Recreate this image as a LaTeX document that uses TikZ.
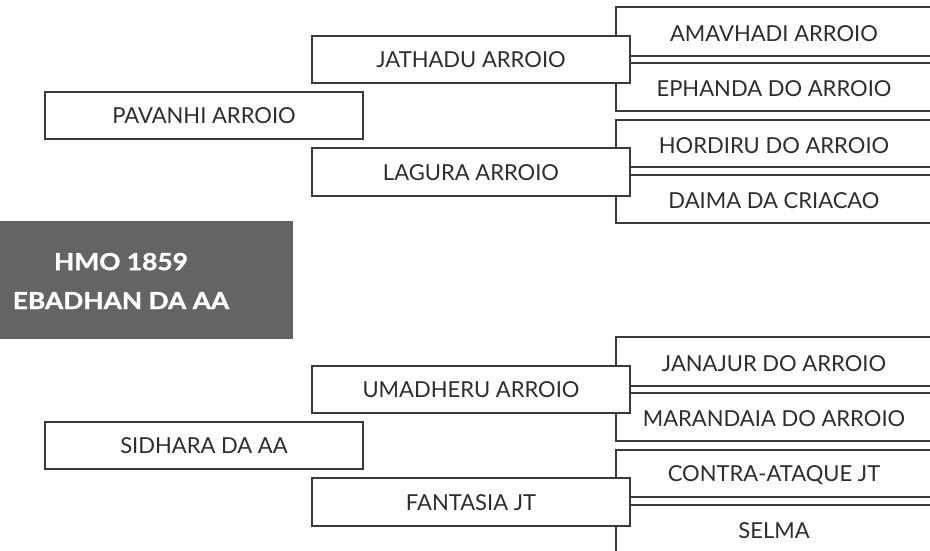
\documentclass[tikz,border=0pt]{standalone}
\usepackage{fontspec}
\setmainfont{Lato}
\newfontfamily\titlefont{Lato}[FakeStretch=1.12, FakeBold=1.3]
\definecolor{ln}{RGB}{58,58,58}
\definecolor{tx}{RGB}{45,45,45}
\definecolor{gbox}{RGB}{100,100,102}
\begin{document}
\begin{tikzpicture}[x=1pt,y=-1pt,
  box/.style={draw=ln, line width=1.2pt, fill=white, rectangle, inner sep=0pt,
    text=tx, font=\fontsize{22}{26}\selectfont, minimum width=318pt, text height=16.5pt},
  ggbox/.style={box, minimum width=316pt, text height=20pt},
  link/.style={draw=ln, line width=1.2pt}]
\useasboundingbox (0,0) rectangle (930,550);
\clip (0,0) rectangle (930,550);

% great-grandparents, top half
\node[ggbox, minimum height=49pt] (ama) at (774,31.5) {AMAVHADI ARROIO};
\node[ggbox, minimum height=48pt] (eph) at (774,87) {EPHANDA DO ARROIO};
\node[ggbox, minimum height=47pt] (hor) at (774,143.5) {HORDIRU DO ARROIO};
\node[ggbox, minimum height=48pt] (dai) at (774,199) {DAIMA DA CRIACAO};
\draw[link] (ama.south west) -- (eph.north west);
\draw[link] (hor.south west) -- (dai.north west);

% great-grandparents, bottom half
\node[ggbox, minimum height=49pt] (jan) at (774,361.5) {JANAJUR DO ARROIO};
\node[ggbox, minimum height=48pt] (mar) at (774,417) {MARANDAIA DO ARROIO};
\node[ggbox, minimum height=47pt] (con) at (774,473.5) {CONTRA-ATAQUE JT};
\node[ggbox, minimum height=48pt] (sel) at (774,529) {SELMA};
\draw[link] (jan.south west) -- (mar.north west);
\draw[link] (con.south west) -- (sel.north west);

% grandparents
\node[box, minimum height=47pt] (jat) at (471,59.5) {JATHADU ARROIO};
\node[box, minimum height=48pt] (lag) at (471,172) {LAGURA ARROIO};
\node[box, minimum height=47pt] (uma) at (471,389.5) {UMADHERU ARROIO};
\node[box, minimum height=48pt] (fan) at (471,502) {FANTASIA JT};

% parents
\node[box, minimum height=47pt] (pav) at (204,115.5) {PAVANHI ARROIO};
\node[box, minimum height=47pt] (sid) at (204,445.5) {SIDHARA DA AA};

% subject
\node[fill=gbox, minimum width=293pt, minimum height=118pt, inner sep=0pt] (hmo) at (146.5,280) {};
\node[text=white, align=center, inner sep=0pt, font=\titlefont\fontsize{23.5}{39}\selectfont\bfseries] (hmotext) at (121,281) {HMO 1859\\EBADHAN DA AA};
\end{tikzpicture}
\end{document}
